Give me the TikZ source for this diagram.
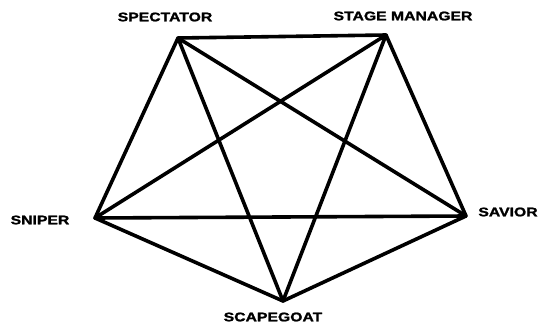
\documentclass[tikz,border=0pt]{standalone}
\usepackage{fontspec}
\newfontfamily\lbl[FakeStretch=1.26,BoldFeatures={FakeBold=1.6}]{Liberation Sans}
\begin{document}
\begin{tikzpicture}[x=1pt,y=-1pt,
  lab/.style={font=\lbl\bfseries\fontsize{12.5}{14}\selectfont,inner sep=0pt,anchor=center},
  edge/.style={line width=3.6pt,line cap=round,line join=round}]
\useasboundingbox (0,0) rectangle (541,327);
\coordinate (spec) at (178,38);
\coordinate (stage) at (386,35);
\coordinate (sav) at (466,216);
\coordinate (scape) at (283,301);
\coordinate (snip) at (95,218);
\node[lab] (lspec) at (165,17) {SPECTATOR};
\node[lab] (lstage) at (403,16) {STAGE MANAGER};
\node[lab] (lsnip) at (40,220) {SNIPER};
\node[lab] (lsav) at (508,212) {SAVIOR};
\node[lab] (lscape) at (273,317) {SCAPEGOAT};
\draw[edge] (spec) -- (stage) -- (sav) -- (scape) -- (snip) -- cycle;
\draw[edge] (spec) -- (sav) -- (snip) -- (stage) -- (scape) -- cycle;
\end{tikzpicture}
\end{document}
